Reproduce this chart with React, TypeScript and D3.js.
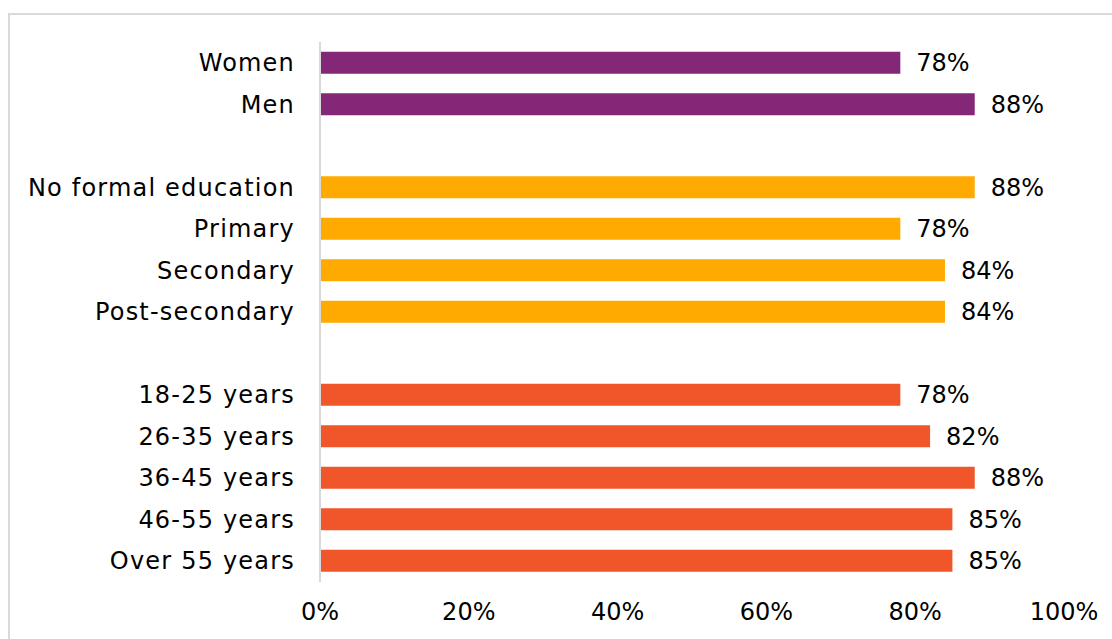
import React from "react";
import * as d3 from "d3";

const categories = [
  "Women", "Men", "",
  "No formal education", "Primary", "Secondary", "Post-secondary", " ",
  "18-25 years", "26-35 years", "36-45 years", "46-55 years", "Over 55 years",
];
const values: (number | null)[] = [78, 88, null, 88, 78, 84, 84, null, 78, 82, 88, 85, 85];
const groups = ["gender", "gender", "", "edu", "edu", "edu", "edu", "", "age", "age", "age", "age", "age"];
const xTicks = [0, 20, 40, 60, 80, 100];

const colors: Record<string, string> = { gender: "#842777", edu: "#FFAA00", age: "#F1552A" };

const W = 1112, H = 639;
const FONT = "'DejaVu Sans', sans-serif";
const FS = 24;
const LS = 1.2;

export default function App() {
  const x = d3.scaleLinear().domain([0, 100]).range([320, 1064]);
  const y = d3.scaleBand().domain(categories).range([42, 581.5]).paddingInner(0.47).paddingOuter(0.235);
  return (
    <svg width={W} height={H} style={{ position: "absolute", left: 0, top: 0 }}>
      <rect x={0} y={0} width={W} height={H} fill="#fff" />
      <rect x={9} y={14} width={W + 20} height={H + 20} fill="none" stroke="#d9d9d9" strokeWidth={2} />
      {categories.map((c, i) => {
        const v = values[i];
        if (v === null) return null;
        const yy = y(c)!;
        const cy = yy + y.bandwidth() / 2;
        return (
          <g key={c}>
            <rect x={x(0)} y={yy} width={x(v) - x(0)} height={y.bandwidth()} fill={colors[groups[i]]} />
            <text x={295} y={cy} dy="0.35em" textAnchor="end" fontFamily={FONT} fontSize={FS} letterSpacing={LS} fill="#000">{c}</text>
            <text x={x(v) + 16} y={cy} dy="0.35em" textAnchor="start" fontFamily={FONT} fontSize={FS} fill="#000">{v}%</text>
          </g>
        );
      })}
      <line x1={x(0)} x2={x(0)} y1={42} y2={582} stroke="#d9d9d9" strokeWidth={2} />
      {xTicks.map((t) => (
        <text key={t} x={x(t)} y={612} dy="0.35em" textAnchor="middle" fontFamily={FONT} fontSize={FS} fill="#000">{t}%</text>
      ))}
    </svg>
  );
}
